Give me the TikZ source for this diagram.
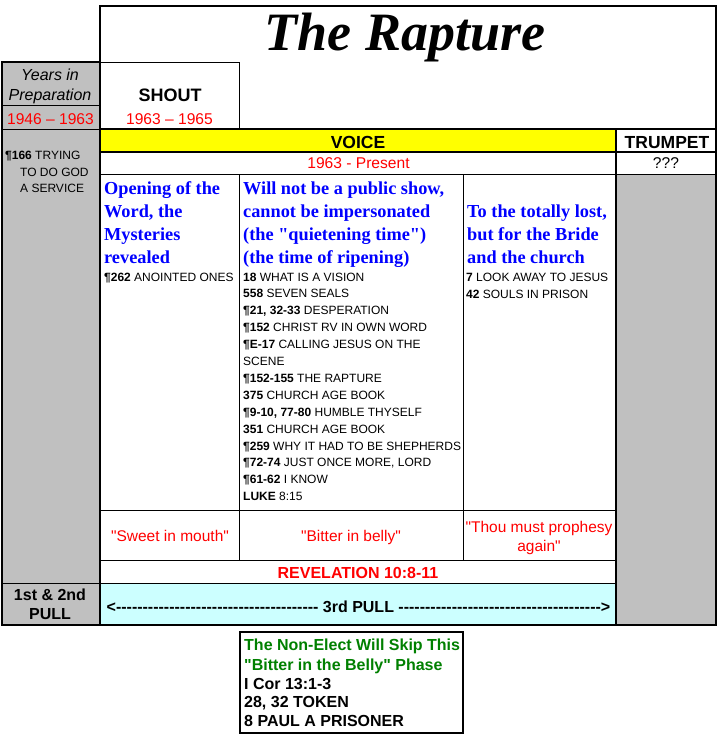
\documentclass[tikz,border=0pt]{standalone}
\usepackage{fontspec}
\setmainfont{Liberation Sans}[Ligatures=TeXOff]
\newfontfamily\serifbi{Liberation Serif}[Ligatures=TeXOff]
\definecolor{cgray}{HTML}{C0C0C0}
\definecolor{cyel}{HTML}{FFFF00}
\definecolor{ccyan}{HTML}{CCFFFF}
\definecolor{cred}{HTML}{FF0000}
\definecolor{cblue}{HTML}{0000FF}
\definecolor{cgreen}{HTML}{008000}
\newcommand\myfs[1]{\fontsize{#1}{#1}\selectfont}
\newcommand\mydashes[1]{\foreach \k in {1,...,#1}{-\kern0pt}}
\tikzset{
  thinln/.style={line width=1pt},
  thickln/.style={line width=2.2pt},
  tx/.style={inner sep=0pt, anchor=base west, font=\myfs{12}},
  ctr/.style={inner sep=0pt, anchor=base},
  bluehd/.style={inner sep=0pt, anchor=base west, text=cblue, font=\serifbi\bfseries\myfs{18.3}},
  redtx/.style={ctr, text=cred, font=\myfs{15.6}},
  hd/.style={ctr, font=\bfseries\myfs{17.5}},
  greentx/.style={inner sep=0pt, anchor=base west, text=cgreen, font=\bfseries\myfs{16}},
  blktx/.style={inner sep=0pt, anchor=base west, font=\bfseries\myfs{16}},
}
\begin{document}
\begin{tikzpicture}[x=1pt,y=-1pt]
\useasboundingbox (0,0) rectangle (720,740);
% fills
\fill[cgray] (2,62) rectangle (100,625);
\fill[cgray] (616,174) rectangle (716,625);
\fill[cyel] (100,129) rectangle (616,152);
\fill[ccyan] (100,583) rectangle (616,625);
% thin grid
\draw[line width=1.4pt] (2,62) rectangle (100,625);
\draw[thinln] (2,105) -- (100,105);
\draw[thinln] (2,129) -- (100,129);
\draw[thinln] (2,583) -- (100,583);
\draw[thinln] (100,62) -- (239,62) -- (239,129);
\draw[line width=1.5pt] (100,152) -- (716,152);
\draw[thinln] (100,174) -- (716,174);
\draw[thinln] (239,174) -- (239,560);
\draw[thinln] (463,174) -- (463,560);
\draw[thinln] (100,510) -- (616,510);
\draw[thinln] (100,560) -- (616,560);
\draw[thinln] (100,583) -- (616,583);
% thick borders
\draw[thickln] (100,6) rectangle (716,625);
\draw[thickln] (100,129) -- (716,129);
\draw[thickln] (616,129) -- (616,625);
\draw[thickln] (2,625) -- (100,625);

% title
\node[ctr, font=\serifbi\bfseries\itshape\myfs{54}] (title) at (405,50) {The Rapture};
% left column
\node[ctr, font=\itshape\myfs{16}] (yrs1) at (50,80) {Years in};
\node[ctr, font=\itshape\myfs{16}] (yrs2) at (50,100.5) {Preparation};
\node[redtx] (yrsd) at (50.5,124) {1946 – 1963};
\node[tx] (try1) at (5,159) {{\bfseries ¶166} TRYING};
\node[tx] (try2) at (20,176) {TO DO GOD};
\node[tx] (try3) at (20,192) {A SERVICE};
\node[ctr, font=\bfseries\myfs{16}] (pull1) at (50,600) {1st \& 2nd};
\node[ctr, font=\bfseries\myfs{16}] (pull2) at (50,619) {PULL};
% shout
\node[ctr, font=\bfseries\myfs{18}] (shout) at (170,101) {SHOUT};
\node[redtx] (shoutd) at (169.5,124) {1963 – 1965};
% voice / trumpet
\node[hd] (voice) at (358,148) {VOICE};
\node[hd] (trumpet) at (667,148) {TRUMPET};
\node[redtx] (voiced) at (358.5,168) {1963 - Present};
\node[ctr, font=\myfs{15.6}] (trumpd) at (666,168) {???};
% column 1
\node[bluehd] (c1a) at (104,194) {Opening of the};
\node[bluehd] (c1b) at (104,217) {Word, the};
\node[bluehd] (c1c) at (104,240) {Mysteries};
\node[bluehd] (c1d) at (104,263) {revealed};
\node[tx] (c1e) at (104,281) {{\bfseries ¶262} ANOINTED ONES};
% column 2
\node[bluehd] (c2a) at (243,194) {Will not be a public show,};
\node[bluehd] (c2b) at (243,217) {cannot be impersonated};
\node[bluehd] (c2c) at (243,240) {(the "quietening time")};
\node[bluehd] (c2d) at (243,263) {(the time of ripening)};
\foreach \t [count=\i] in {
  {{\bfseries 18} WHAT IS A VISION},
  {{\bfseries 558} SEVEN SEALS},
  {{\bfseries ¶21, 32-33} DESPERATION},
  {{\bfseries ¶152} CHRIST RV IN OWN WORD},
  {{\bfseries ¶E-17} CALLING JESUS ON THE},
  {SCENE},
  {{\bfseries ¶152-155} THE RAPTURE},
  {{\bfseries 375} CHURCH AGE BOOK},
  {{\bfseries ¶9-10, 77-80} HUMBLE THYSELF},
  {{\bfseries 351} CHURCH AGE BOOK},
  {{\bfseries ¶259} WHY IT HAD TO BE SHEPHERDS},
  {{\bfseries ¶72-74} JUST ONCE MORE, LORD},
  {{\bfseries ¶61-62} I KNOW},
  {{\bfseries LUKE} 8:15}}
  \node[tx] (c2l\i) at ({243},{281+16.9*(\i-1)}) {\t};
% column 3
\node[bluehd] (c3a) at (467,217) {To the totally lost,};
\node[bluehd] (c3b) at (467,240) {but for the Bride};
\node[bluehd] (c3c) at (467,263) {and the church};
\node[tx] (c3d) at (466,281) {{\bfseries 7} LOOK AWAY TO JESUS};
\node[tx] (c3e) at (466,298) {{\bfseries 42} SOULS IN PRISON};
% quotes row
\node[redtx, font=\myfs{15.5}] (q1) at (170,541.7) {"Sweet in mouth"};
\node[redtx, font=\myfs{15.5}] (q2) at (351,541.7) {"Bitter in belly"};
\node[redtx, font=\myfs{15.5}] (q3a) at (539,532) {"Thou must prophesy};
\node[redtx, font=\myfs{15.5}] (q3b) at (539,551.5) {again"};
\node[ctr, text=cred, font=\bfseries\myfs{16}] (rev) at (358,578) {REVELATION 10:8-11};
% 3rd pull
\node[ctr, font=\bfseries\myfs{16}] (pull3) at (358.5,612) {<\mydashes{38} 3rd PULL \mydashes{38}>};
% bottom box
\draw[line width=2pt] (240,632) rectangle (463,733);
\node[greentx] (ne1) at (244,650.5) {The Non-Elect Will Skip This};
\node[greentx] (ne2) at (244,670) {"Bitter in the Belly" Phase};
\node[blktx] (ne3) at (244,689) {I Cor 13:1-3};
\node[blktx] (ne4) at (244,707.5) {28, 32 TOKEN};
\node[blktx] (ne5) at (244,726.5) {8 PAUL A PRISONER};
\end{tikzpicture}
\end{document}
